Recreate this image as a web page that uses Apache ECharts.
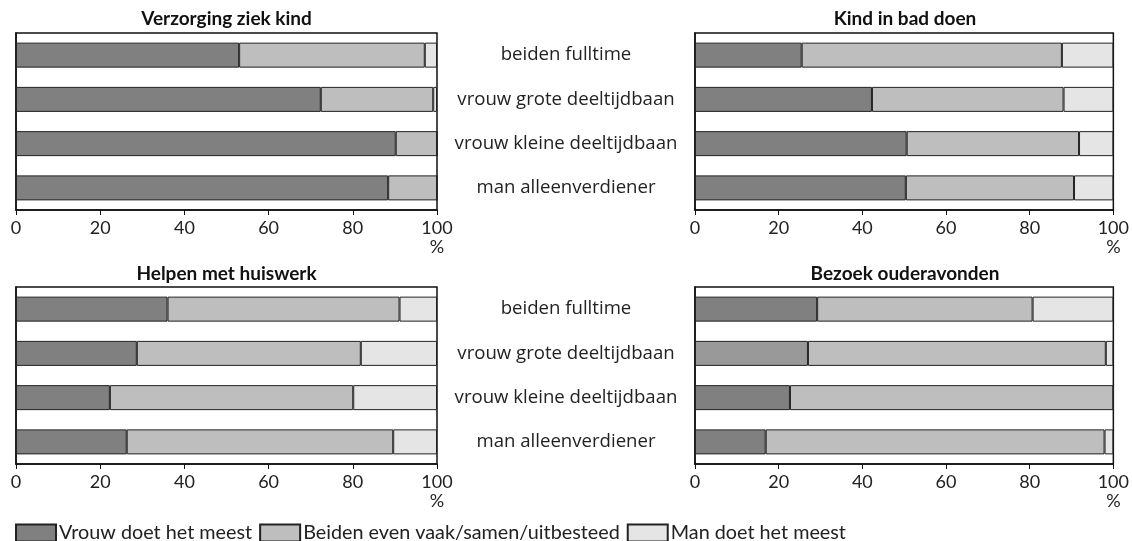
<!DOCTYPE html>
<html>
<head>
<meta charset="utf-8">
<script src="https://cdn.jsdelivr.net/npm/echarts@6/dist/echarts.min.js"></script>
<style>html,body{margin:0;padding:0;background:#fff;}#c{width:1132px;height:541px;}</style>
</head>
<body>
<div id="c"></div>
<script>
const categories = ['beiden fulltime', 'vrouw grote deeltijdbaan', 'vrouw kleine deeltijdbaan', 'man alleenverdiener'];
const seriesNames = ['Vrouw doet het meest', 'Beiden even vaak/samen/uitbesteed', 'Man doet het meest'];
const panelTitles = ['Verzorging ziek kind', 'Kind in bad doen', 'Helpen met huiswerk', 'Bezoek ouderavonden'];
const xTicks = [0, 20, 40, 60, 80, 100];

// Verzorging ziek kind
const ziekVrouw = [53.0, 72.4, 90.2, 88.4];
const ziekBeiden = [44.1, 26.7, 9.8, 11.6];
const ziekMan = [2.9, 0.9, 0, 0];
// Kind in bad doen
const badVrouw = [25.5, 42.3, 50.6, 50.4];
const badBeiden = [62.2, 45.8, 41.2, 40.2];
const badMan = [12.3, 11.9, 8.2, 9.4];
// Helpen met huiswerk
const huisVrouw = [36.0, 28.7, 22.3, 26.3];
const huisBeiden = [55.1, 53.2, 57.8, 63.3];
const huisMan = [8.9, 18.1, 19.9, 10.4];
// Bezoek ouderavonden
const ouderVrouw = [29.2, 27.0, 22.7, 16.9];
const ouderBeiden = [51.5, 71.2, 77.3, 81.0];
const ouderMan = [19.3, 1.8, 0, 2.1];

const panels = [
  [ziekVrouw, ziekBeiden, ziekMan],
  [badVrouw, badBeiden, badMan],
  [huisVrouw, huisBeiden, huisMan],
  [ouderVrouw, ouderBeiden, ouderMan]
];

const colors = ['#808080', '#bebebe', '#e5e5e5'];
const FONT = 'Lato';

const grids = [
  {left: 16, top: 33, width: 421, height: 177},
  {left: 695, top: 33, width: 420, height: 177},
  {left: 16, top: 287, width: 421, height: 177},
  {left: 695, top: 287, width: 420, height: 177}
];
const centers = [226.5, 905, 226.5, 905];
const titleTops = [9, 9, 264, 264];

const option = {
  animation: false,
  backgroundColor: '#fff',
  textStyle: {fontFamily: FONT},
  title: panelTitles.map((t, i) => ({
    text: t, left: centers[i], top: titleTops[i], textAlign: 'center', padding: 0,
    textStyle: {fontFamily: FONT, fontSize: 19, fontWeight: 'bold', color: '#111'}
  })),
  legend: {
    data: seriesNames, left: 15, top: 523, icon: 'rect', itemWidth: 40, itemHeight: 17,
    itemGap: 7, padding: 0, selectedMode: false,
    textStyle: {fontFamily: FONT, fontSize: 19.8, color: '#222', padding: [0, 0, 0, -2]}
  },
  grid: grids.map(g => Object.assign({show: true, borderColor: '#111', borderWidth: 1.5, backgroundColor: '#fff'}, g)),
  xAxis: grids.map((g, i) => ({
    type: 'value', gridIndex: i, min: 0, max: 100, interval: 20,
    axisLine: {show: true, lineStyle: {color: '#111', width: 1.5}},
    axisTick: {show: true, length: 5, lineStyle: {color: '#111'}},
    splitLine: {show: false},
    axisLabel: {
      margin: 9, fontFamily: FONT, fontSize: 18, color: '#222', lineHeight: 19,
      formatter: v => (v === 100 ? '100\n%' : String(v))
    }
  })),
  yAxis: grids.map((g, i) => ({
    type: 'category', gridIndex: i, data: categories, inverse: true,
    axisLine: {show: true, lineStyle: {color: '#111', width: 1.5}},
    axisTick: {show: false},
    axisLabel: (i % 2 === 1) ? {
      show: true, align: 'center', margin: 129, fontFamily: 'Open Sans', fontSize: 18.6, color: '#222'
    } : {show: false}
  })),
  series: []
};

panels.forEach((p, gi) => {
  p.forEach((vals, si) => {
    option.series.push({
      type: 'bar', name: seriesNames[si], xAxisIndex: gi, yAxisIndex: gi, stack: 'p' + gi,
      barWidth: 25,
      itemStyle: {color: colors[si], borderColor: '#222', borderWidth: 1},
      data: vals.map((v, ci) => (gi === 3 && si === 0 && ci === 1) ? {value: v, itemStyle: {color: '#999999'}} : v)
    });
  });
});

const chart = echarts.init(document.getElementById('c'), null, {renderer: 'canvas'});
chart.setOption(option);
</script>
</body>
</html>
